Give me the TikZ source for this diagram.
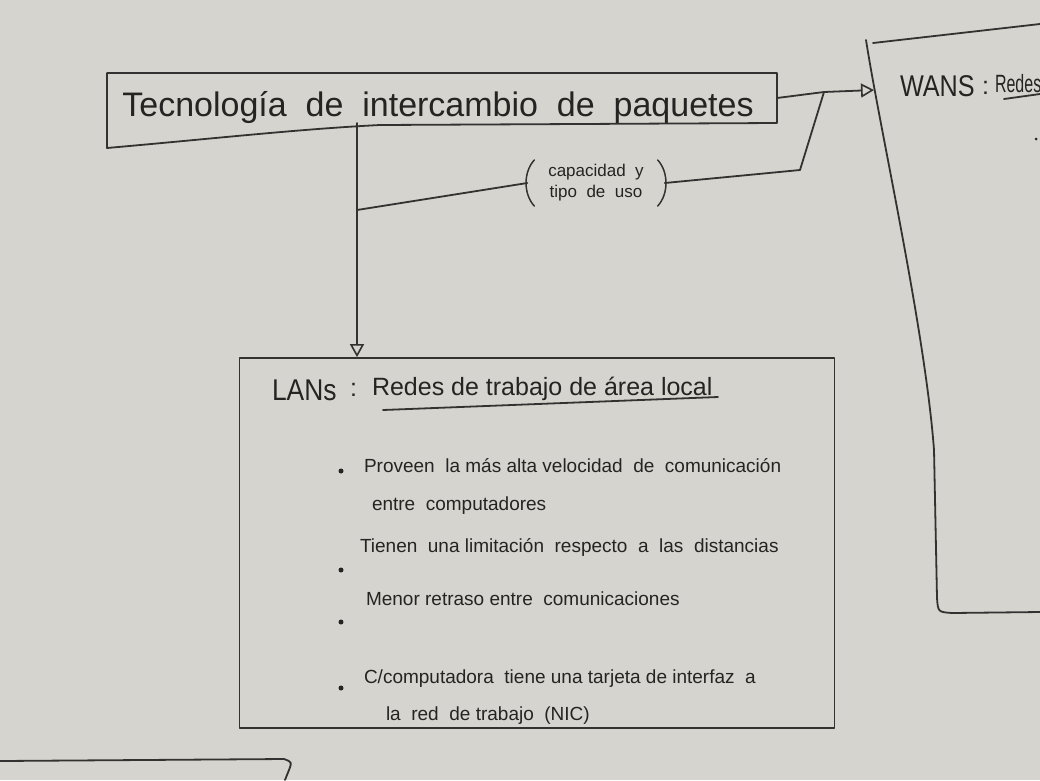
\documentclass[tikz,border=0pt]{standalone}
\usepackage{fontspec}
\setmainfont{Liberation Sans}
\usetikzlibrary{arrows.meta}
\newcommand\boardTitle{\fontsize{34}{38}\selectfont}
\newcommand\boardBig{\fontsize{30}{34}\selectfont}
\newcommand\boardHead{\fontsize{25}{29}\selectfont}
\newcommand\boardText{\fontsize{19}{23}\selectfont}
\newcommand\boardSmall{\fontsize{17}{21}\selectfont}
\begin{document}
\begin{tikzpicture}[x=1pt,y=-1pt,
  board/.style={draw=drawColor,line width=1.8pt,line join=round,line cap=round},
  handText/.style={text=textColor,inner sep=0pt,outer sep=0pt,anchor=base west},
  openTip/.style={-{Triangle[open,length=13pt,width=14pt,line width=1.6pt]}},
  dotMark/.style={fill=textColor,circle,inner sep=0pt,minimum size=5pt}]
\definecolor{fillColor}{RGB}{214,212,206}
\definecolor{drawColor}{RGB}{52,50,48}
\definecolor{textColor}{RGB}{38,36,34}
\path[use as bounding box,fill=fillColor] (0,0) rectangle (1040,780);
\begin{scope}
\path[clip] (0,0) rectangle (1040,780);

\node[rectangle,minimum width=670pt,minimum height=50pt,inner sep=0pt,outer sep=0pt] (title) at (442,98) {};
\node[handText,anchor=base,font=\boardTitle] (titleText) at (438,116) {Tecnología\ \ de\ \ intercambio\ \ de\ \ paquetes};
\path[board] (380,125) -- (title.south east) -- (title.north east) -- (title.north west) -- (107,148) .. controls (220,138) and (300,129) .. (380,125);

\node[board,rectangle,minimum width=595pt,minimum height=370pt,inner sep=0pt] (lan) at (537,543) {};

\coordinate (split) at (357,210);
\coordinate (junction) at (824,92);
\coordinate (wansIn) at (874,90);

\path[board,openTip] (title.south -| split) -- (lan.north -| split);

\node[text=textColor,inner xsep=24pt,inner ysep=0pt,outer sep=0pt,minimum height=46pt,align=center,font=\boardSmall] (usage) at (596,183) {capacidad\ \ y\\tipo\ \ de\ \ uso};
\path[board,line width=1.5pt] ([xshift=10pt]usage.north west) .. controls ([xshift=-1pt,yshift=-12pt]usage.north west) and ([xshift=-1pt,yshift=12pt]usage.south west) .. ([xshift=10pt]usage.south west);
\path[board,line width=1.5pt] ([xshift=-10pt]usage.north east) .. controls ([xshift=1pt,yshift=-12pt]usage.north east) and ([xshift=1pt,yshift=12pt]usage.south east) .. ([xshift=-10pt]usage.south east);
\path[board] (split) -- ([xshift=3pt]usage.west);
\path[board] ([xshift=-3pt]usage.east) -- (800,170) -- (junction);
\path[board,openTip] (title.east) -- (junction) -- (wansIn);

\path[board] (1040,24) -- (873,43);
\path[board] (866,40) .. controls (880,130) and (925,330) .. (934,450) -- (937,598) .. controls (938,612) .. (952,613) -- (1040,612);
\node[handText,font=\boardBig] (wans) at (900,96) {\scalebox{0.84}[1]{WANS}};
\node[handText,font=\boardHead] (wansSep) at (982,94) {:};
\node[handText,font=\boardHead] (wansHead) at (995,92) {\scalebox{0.64}[1]{Redes}};
\path[board] (1004,99) -- (1040,94);
\node[dotMark,minimum size=3pt] (wansDot) at (1036,139) {};

\node[handText,font=\boardBig] (lans) at (272,400) {\scalebox{0.88}[1]{LANs}};
\node[handText,font=\boardHead] (lansSep) at (350,396) {:};
\node[handText,font=\boardHead] (lansHead) at (372,395) {Redes\ de\ trabajo\ de\ área\ local};
\path[board] (383,410) -- (718,397);

\node[dotMark] (dotA) at (341,471) {};
\node[handText,font=\boardText] (itemA) at (364,472) {Proveen\ \ la más alta velocidad\ \ de\ \ comunicación};
\node[handText,font=\boardText] (itemAb) at (372,510) {entre\ \ computadores};
\node[dotMark] (dotB) at (341,570) {};
\node[handText,font=\boardText] (itemB) at (360,552) {Tienen\ \ una\ limitación\ \ respecto\ \ a\ \ las\ \ distancias};
\node[dotMark] (dotC) at (341,622) {};
\node[handText,font=\boardText] (itemC) at (366,605) {Menor\ retraso\ entre\ \ comunicaciones};
\node[dotMark] (dotD) at (341,688) {};
\node[handText,font=\boardText] (itemD) at (364,683) {C/computadora\ \ tiene\ una\ tarjeta\ de\ interfaz\ \ a};
\node[handText,font=\boardText] (itemDb) at (386,720) {la\ \ red\ \ de\ trabajo\ \ (NIC)};

\path[board] (0,761) -- (284,759) .. controls (292,762) .. (289,770) -- (285,780);
\end{scope}
\end{tikzpicture}
\end{document}
